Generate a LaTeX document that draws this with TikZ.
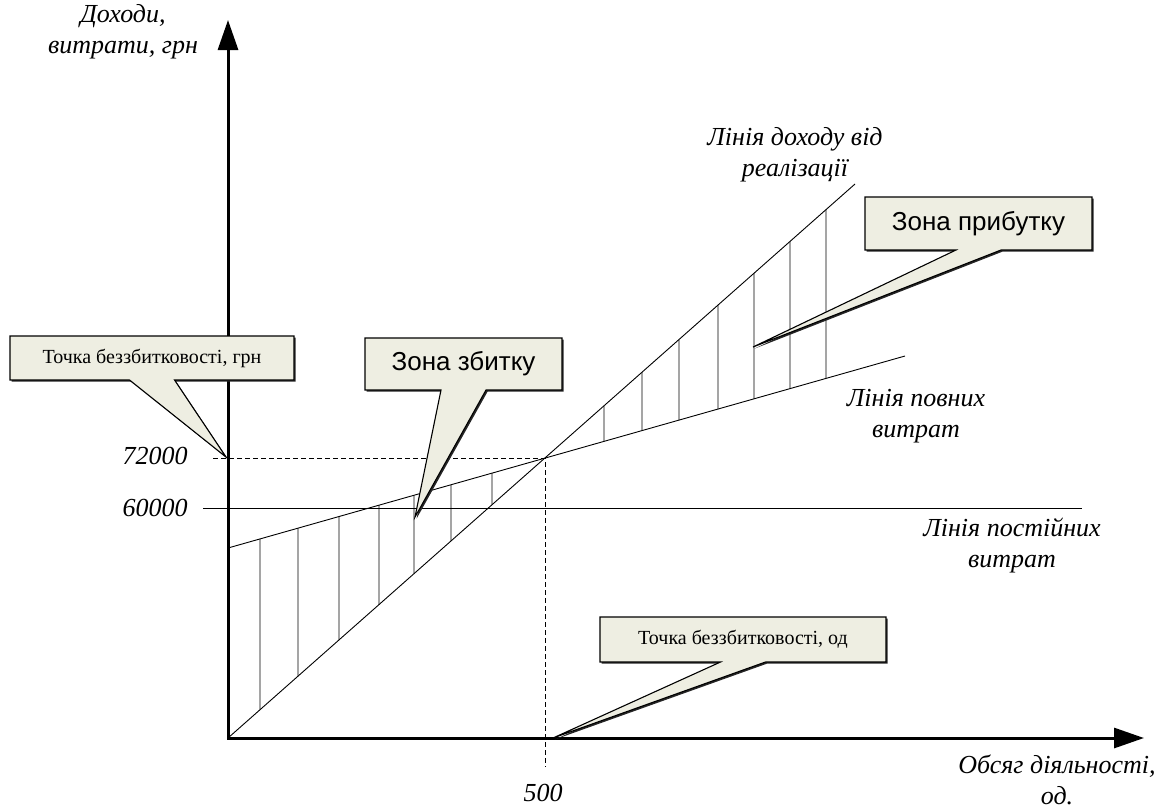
\documentclass[tikz,border=0pt]{standalone}
\usepackage{fontspec}
\setmainfont{Liberation Serif}
\setsansfont{Liberation Sans}
\usetikzlibrary{arrows.meta,calc,shadows}

\definecolor{calloutfill}{RGB}{238,238,226}

\begin{document}
\begin{tikzpicture}[x=1pt,y=-1pt]
    \tikzstyle{axisline}=[line width=3pt,{Triangle[length=30pt,width=20pt]}-{Triangle[length=30pt,width=20pt]}]
    \tikzstyle{thinline}=[line width=0.9pt]
    \tikzstyle{hatch}=[line width=0.8pt]
    \tikzstyle{guide}=[line width=0.9pt,dash pattern=on 5pt off 3pt]
    \tikzstyle{axistext}=[font=\fontsize{26}{31}\selectfont\itshape,align=center,inner sep=0pt]
    \tikzstyle{boxshape}=[rectangle,inner sep=0pt,outer sep=0pt]
    \tikzstyle{calloutbox}=[draw=black,line width=1.1pt,fill=calloutfill,drop shadow={shadow xshift=1.6pt,shadow yshift=-1.6pt,opacity=1,fill=black!85}]
    \tikzstyle{zonetext}=[font=\sffamily\fontsize{26}{31}\selectfont]
    \tikzstyle{pointtext}=[font=\fontsize{20}{24}\selectfont]

    \useasboundingbox (0,0) rectangle (1161,809);

    \coordinate (O) at (228,738);
    \coordinate (ytop) at (228,20);
    \coordinate (xend) at (1144,738);
    \coordinate (rev) at (855,184);
    \coordinate (tc0) at (228,548);
    \coordinate (tc1) at (905,356);
    \coordinate (fc0) at (203,508);
    \coordinate (fc1) at (1082,508);
    \coordinate (BE) at (545,458);
    \coordinate (y72) at (213,458);
    \coordinate (x500) at (545,767);

    
    \foreach \hx [evaluate=\hx as \rf using (\hx-228)/627, evaluate=\hx as \cf using (\hx-228)/677] in {260,298,339,379,414,451,492,604,642,679,718,754,790,826}
        \draw[hatch] ($(O)!\rf!(rev)$) -- ($(tc0)!\cf!(tc1)$);

    
    \draw[thinline] (O) -- (rev);
    \draw[thinline] (tc0) -- (tc1);
    \draw[thinline] (fc0) -- (fc1);
    \draw[guide] (y72) -- (BE) -- (x500);
    \draw[axisline] (ytop) -- (O) -- (xend);

    
    \node[axistext] (ylab) at (123,32) {Доходи,\\витрати, грн};
    \node[axistext] (revlab) at (795,155) {Лінія доходу від\\реалізації};
    \node[axistext] (tclab) at (916,416) {Лінія повних\\витрат};
    \node[axistext] (fclab) at (1012,546) {Лінія постійних\\витрат};
    \node[axistext] (xlab) at (1057,780) {Обсяг діяльності,\\од.};
    \node[axistext] (l500) at (543,793) {500};
    \node[axistext] (l72) at (155,456) {72000};
    \node[axistext] (l60) at (155,508) {60000};

    
    \node[boxshape,minimum width=284pt,minimum height=44pt] (grnbox) at (152,358) {};
    \coordinate (grntip) at (226,457);
    \draw[calloutbox] (grnbox.north west) -- (grnbox.north east) -- (grnbox.south east) -- ($(grnbox.south)+(22.5,0)$) -- (grntip) -- ($(grnbox.south)+(-22.5,0)$) -- (grnbox.south west) -- cycle;
    \node[pointtext] at (grnbox) {Точка беззбитковості, грн};

    \node[boxshape,minimum width=197pt,minimum height=52pt] (lossbox) at (463.5,364) {};
    \coordinate (losstip) at (415,517);
    \draw[calloutbox] (lossbox.north west) -- (lossbox.north east) -- (lossbox.south east) -- ($(lossbox.south)+(22.5,0)$) -- (losstip) -- ($(lossbox.south)+(-22.5,0)$) -- (lossbox.south west) -- cycle;
    \node[zonetext] at (lossbox) {Зона збитку};

    \node[boxshape,minimum width=227pt,minimum height=53pt] (profbox) at (978.5,223.5) {};
    \coordinate (proftip) at (753,347);
    \draw[calloutbox] (profbox.north west) -- (profbox.north east) -- (profbox.south east) -- ($(profbox.south)+(22.5,0)$) -- (proftip) -- ($(profbox.south)+(-22.5,0)$) -- (profbox.south west) -- cycle;
    \node[zonetext] at (profbox) {Зона прибутку};

    \node[boxshape,minimum width=286pt,minimum height=45pt] (odbox) at (743,639.5) {};
    \coordinate (odtip) at (553,738);
    \draw[calloutbox] (odbox.north west) -- (odbox.north east) -- (odbox.south east) -- ($(odbox.south)+(22.5,0)$) -- (odtip) -- ($(odbox.south)+(-22.5,0)$) -- (odbox.south west) -- cycle;
    \node[pointtext] at (odbox) {Точка беззбитковості, од};
\end{tikzpicture}
\end{document}
